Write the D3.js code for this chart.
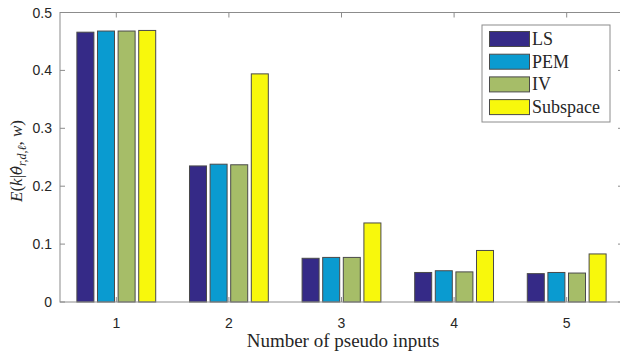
<!DOCTYPE html>
<html>
<head>
<meta charset="utf-8">
<script src="https://cdn.jsdelivr.net/npm/d3@7"></script>
<style>
  body { margin: 0; background: #fff; }
</style>
</head>
<body>
<div id="chart"></div>
<script>
// values
const groups = [1, 2, 3, 4, 5]
const methods = ["LS", "PEM", "IV", "Subspace"]
const lsVals = [0.466, 0.235, 0.0755, 0.051, 0.049]
const pemVals = [0.468, 0.238, 0.077, 0.054, 0.051]
const ivVals = [0.468, 0.237, 0.077, 0.052, 0.050]
const subVals = [0.469, 0.394, 0.1365, 0.089, 0.083]
const yTicks = [0, 0.1, 0.2, 0.3, 0.4, 0.5]
const yTickLabels = ["0", "0.1", "0.2", "0.3", "0.4", "0.5"]

const series = [lsVals, pemVals, ivVals, subVals]
const colors = ["#352a87", "#0a9bd0", "#a6bd68", "#f8f80c"]

const W = 620, H = 352
const sans = "'Liberation Sans', Arial, sans-serif"
const serif = "'Liberation Serif', 'Times New Roman', serif"

const svg = d3.select("#chart").append("svg")
    .attr("width", W)
    .attr("height", H)

const x = d3.scaleLinear().domain([0.5, 5.5]).range([60, 623])
const y = d3.scaleLinear().domain([0, 0.5]).range([302, 12.5])

const barStep = 0.183, barW = 0.151
const axisCol = "#8c8c8c"

// bars
series.forEach(function (vals, i) {
  svg.append("g")
    .selectAll("rect")
    .data(vals)
    .enter()
    .append("rect")
      .attr("x", function (d, j) { return x(groups[j] + (i - 1.5) * barStep - barW / 2) })
      .attr("width", x(barW) - x(0))
      .attr("y", function (d) { return y(d) })
      .attr("height", function (d) { return y(0) - y(d) })
      .attr("fill", colors[i])
      .attr("stroke", "#4a4a4a")
      .attr("stroke-width", 1)
})

// axis box (right edge sits just outside the image)
const tickLen = 5
svg.append("rect")
  .attr("x", x(0.5)).attr("y", y(0.5))
  .attr("width", x(5.5) - x(0.5)).attr("height", y(0) - y(0.5))
  .attr("fill", "none").attr("stroke", axisCol).attr("stroke-width", 1)

// y ticks, left and right, pointing inward
const yt = svg.append("g")
yt.selectAll("line.l").data(yTicks).enter().append("line")
  .attr("x1", x(0.5)).attr("x2", x(0.5) + tickLen)
  .attr("y1", function (d) { return y(d) }).attr("y2", function (d) { return y(d) })
  .attr("stroke", axisCol)
yt.selectAll("line.r").data(yTicks).enter().append("line")
  .attr("x1", x(5.5)).attr("x2", x(5.5) - tickLen)
  .attr("y1", function (d) { return y(d) }).attr("y2", function (d) { return y(d) })
  .attr("stroke", axisCol)
yt.selectAll("text").data(yTicks).enter().append("text")
  .attr("x", x(0.5) - 8)
  .attr("y", function (d) { return y(d) + 5 })
  .attr("text-anchor", "end")
  .style("font-family", sans)
  .style("font-size", "14px")
  .attr("fill", "#262626")
  .text(function (d, i) { return yTickLabels[i] })

// x ticks, bottom and top
const xt = svg.append("g")
xt.selectAll("line.b").data(groups).enter().append("line")
  .attr("x1", function (d) { return x(d) }).attr("x2", function (d) { return x(d) })
  .attr("y1", y(0)).attr("y2", y(0) - tickLen)
  .attr("stroke", axisCol)
xt.selectAll("line.t").data(groups).enter().append("line")
  .attr("x1", function (d) { return x(d) }).attr("x2", function (d) { return x(d) })
  .attr("y1", y(0.5)).attr("y2", y(0.5) + tickLen)
  .attr("stroke", axisCol)
xt.selectAll("text").data(groups).enter().append("text")
  .attr("x", function (d) { return x(d) })
  .attr("y", y(0) + 26)
  .attr("text-anchor", "middle")
  .style("font-family", sans)
  .style("font-size", "14px")
  .attr("fill", "#262626")
  .text(function (d) { return d })

// axis titles
svg.append("text")
  .attr("x", 343).attr("y", 347)
  .attr("text-anchor", "middle")
  .style("font-family", serif)
  .style("font-size", "19px")
  .attr("fill", "#262626")
  .text("Number of pseudo inputs")

const ylab = svg.append("text")
  .attr("transform", "translate(22,161) rotate(-90)")
  .attr("text-anchor", "middle")
  .style("font-family", serif)
  .style("font-size", "17px")
  .attr("fill", "#262626")
ylab.append("tspan").style("font-style", "italic").text("E")
ylab.append("tspan").text("(")
ylab.append("tspan").style("font-style", "italic").text("k")
ylab.append("tspan").text("|")
ylab.append("tspan").style("font-style", "italic")
  .style("font-family", "'DejaVu Serif', serif").style("font-size", "15px")
  .text("θ\u0302")
ylab.append("tspan").style("font-style", "italic").style("font-size", "12px").attr("dy", 4).text("r,d,ℓ")
ylab.append("tspan").attr("dy", -4).text(", ")
ylab.append("tspan").style("font-style", "italic").text("w")
ylab.append("tspan").text(")")

// legend
const lg = svg.append("g").attr("transform", "translate(482,25)")
lg.append("rect")
  .attr("width", 128).attr("height", 97)
  .attr("fill", "#fff").attr("stroke", axisCol)
const rows = lg.selectAll("g").data(methods).enter().append("g")
  .attr("transform", function (d, i) { return "translate(0," + (14 + i * 22.7) + ")" })
rows.append("rect")
  .attr("x", 7.5).attr("y", -7.5).attr("width", 40).attr("height", 15)
  .attr("fill", function (d, i) { return colors[i] })
  .attr("stroke", "#4a4a4a")
rows.append("text")
  .attr("x", 50).attr("y", 6)
  .style("font-family", serif)
  .style("font-size", "18px")
  .attr("fill", "#262626")
  .text(function (d) { return d })
</script>
</body>
</html>
